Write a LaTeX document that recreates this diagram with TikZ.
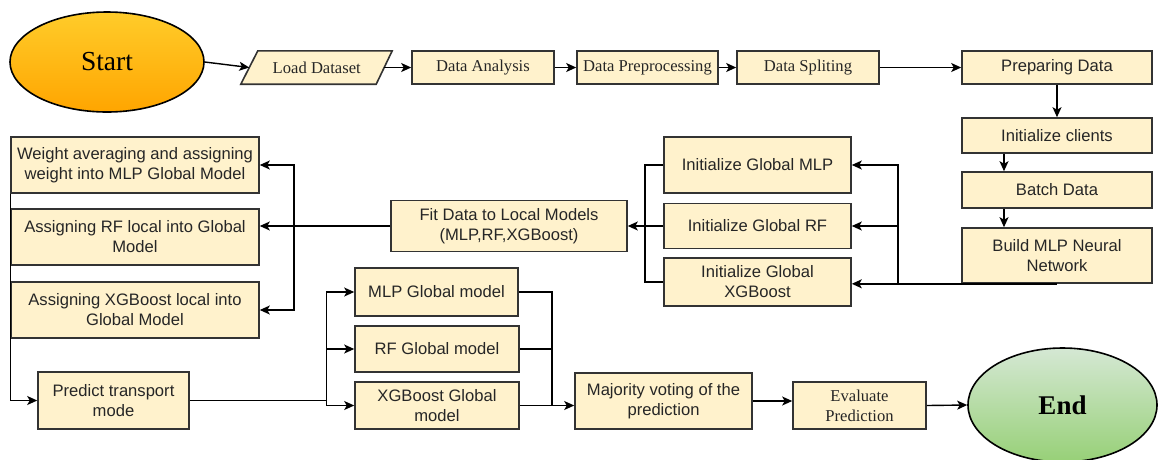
\documentclass[tikz,border=0pt]{standalone}
\usepackage{fontspec}
\setmainfont{Liberation Serif}
\newfontfamily\arialfont{Liberation Sans}
\usetikzlibrary{arrows.meta,calc,backgrounds,shapes.geometric}

\definecolor{boxfill}{HTML}{FFF2CC}
\definecolor{boxline}{HTML}{333333}
\definecolor{txt}{HTML}{262626}
\definecolor{startTop}{HTML}{FFCC2A}
\definecolor{startBot}{HTML}{FFA500}
\definecolor{endTop}{HTML}{D5E8D4}
\definecolor{endBot}{HTML}{97D077}

\tikzset{
  box/.style={draw=boxline, fill=boxfill, line width=1.6pt, align=center,
    inner sep=2pt, text=txt, font=\arialfont\fontsize{16.6}{20}\selectfont},
  serifbox/.style={box, font=\fontsize{16.6}{20}\selectfont},
  terminal/.style={ellipse, draw=black, line width=1.6pt, text=black},
  arr/.style={draw=black, line width=1.4pt, -{Stealth[length=10pt,width=9pt,inset=2.5pt]}},
  link/.style={draw=black, line width=1.4pt},
}

\begin{document}
\begin{tikzpicture}[x=1pt, y=-1pt]
\useasboundingbox (0,0) rectangle (1158,459);

% ---------- terminals ----------
\node[terminal, minimum width=194pt, minimum height=100pt,
      top color=startTop, bottom color=startBot,
      font=\fontsize{27.5}{30}\selectfont] (start) at (107,62) {Start};
\node[terminal, minimum width=189pt, minimum height=114pt,
      top color=endTop, bottom color=endBot,
      font=\bfseries\fontsize{27}{30}\selectfont] (end) at (1062.5,405) {End};

% ---------- top row ----------
\node[minimum width=134.5pt, minimum height=33pt, inner sep=0pt, text=txt,
      font=\fontsize{16.6}{20}\selectfont] (load) at (316.75,67.5) {Load Dataset};
\begin{scope}[on background layer]
  \draw[draw=boxline, fill=boxfill, line width=1.6pt]
    ($(load.south west)+(-8.5,0)$) -- ($(load.north west)+(8.5,0)$) --
    ($(load.north east)+(8,0)$) -- ($(load.south east)+(-8,0)$) -- cycle;
\end{scope}
\node[serifbox, minimum width=142pt, minimum height=33pt] (analysis) at (483,67.5) {Data Analysis};
\node[serifbox, minimum width=141pt, minimum height=33pt] (preproc) at (647.5,67.5) {Data Preprocessing};
\node[serifbox, minimum width=142pt, minimum height=33pt] (split) at (808,67.5) {Data Spliting};

% ---------- right column ----------
\node[box, minimum width=190pt, minimum height=33pt] (prep) at (1057,67.5) {Preparing Data};
\node[box, minimum width=190pt, minimum height=35pt] (clients) at (1057,135.5) {Initialize clients};
\node[box, minimum width=190pt, minimum height=36pt] (batch) at (1057,190) {Batch Data};
\node[box, minimum width=190pt, minimum height=55pt] (build) at (1057,255.5) {Build MLP Neural\\Network};

% ---------- global initialisation ----------
\node[box, minimum width=187pt, minimum height=56pt] (initmlp) at (757.5,165) {Initialize Global MLP};
\node[box, minimum width=187pt, minimum height=45pt] (initrf) at (757.5,226) {Initialize Global RF};
\node[box, minimum width=187pt, minimum height=48pt] (initxgb) at (757.5,282) {Initialize Global\\XGBoost};

\node[box, minimum width=236pt, minimum height=51pt] (fit) at (509,226) {Fit Data to Local Models\\(MLP,RF,XGBoost)};

% ---------- aggregation ----------
\node[box, minimum width=248pt, minimum height=56pt] (wavg) at (135,165) {Weight averaging and assigning\\weight into MLP Global Model};
\node[box, minimum width=248pt, minimum height=56pt] (assrf) at (135,237) {Assigning RF local into Global\\Model};
\node[box, minimum width=248pt, minimum height=56pt] (assxgb) at (135,310) {Assigning XGBoost local into\\Global Model};

% ---------- prediction ----------
\node[box, minimum width=151pt, minimum height=57pt] (predict) at (113.5,400.5) {Predict transport\\mode};
\node[box, minimum width=163pt, minimum height=48pt] (mlpg) at (436.5,292) {MLP Global model};
\node[box, minimum width=164pt, minimum height=46pt] (rfg) at (437,349) {RF Global model};
\node[box, minimum width=164pt, minimum height=47pt] (xgbg) at (437,405.5) {XGBoost Global\\model};
\node[box, minimum width=177pt, minimum height=56pt] (major) at (663.5,401) {Majority voting of the\\prediction};
\node[serifbox, minimum width=133pt, minimum height=47pt] (eval) at (859.5,405.5) {Evaluate\\Prediction};

% ---------- junction points ----------
\coordinate (jb) at ($(build.south -| initxgb.east)+(46,0)$);
\coordinate (jf) at ($(fit.east)+(17,0)$);
\coordinate (jl) at ($(fit.west -| wavg.east)+(34,0)$);
\coordinate (jp) at ($(predict.east -| mlpg.west)+(-28,0)$);
\coordinate (jr) at ($(xgbg.east)+(32,0)$);

% ---------- connectors ----------
\draw[arr] (start.east) -- (load.west);
\draw[arr] (load.east) -- (analysis.west);
\draw[arr] (analysis.east) -- (preproc.west);
\draw[arr] (preproc.east) -- (split.west);
\draw[arr] (split.east) -- (prep.west);
\draw[arr] (prep.south) -- (clients.north);
\draw[arr] ($(clients.south)+(-53,0)$) -- ($(batch.north)+(-53,0)$);
\draw[arr] ($(batch.south)+(-53,0)$) -- ($(build.north)+(-53,0)$);

\draw[arr] (build.south) -- (build.south -| initxgb.east);
\draw[arr] (jb) |- (initrf.east);
\draw[arr] (jb) |- (initmlp.east);

\draw[link] (initmlp.west) -| (jf);
\draw[link] (initxgb.west) -| (jf);
\draw[link] (initrf.west) -- (jf);
\draw[arr] (jf) -- (fit.east);

\draw[arr] (fit.west) -- (fit.west -| assrf.east);
\draw[arr] (jl) |- (wavg.east);
\draw[arr] (jl) |- (assxgb.east);

\draw[arr] (wavg.south west) |- (predict.west);

\draw[link] (predict.east) -- (jp);
\draw[arr] (jp) |- (mlpg.west);
\draw[arr] (jp) |- (rfg.west);
\draw[arr] (jp) |- (xgbg.west);

\draw[link] (mlpg.east) -| (jr);
\draw[link] (rfg.east) -| (jr);
\draw[arr] (xgbg.east) -- (xgbg.east -| major.west);

\draw[arr] (major.east) -- (major.east -| eval.west);
\draw[arr] (eval.east) -- (end.west);
\end{tikzpicture}
\end{document}
